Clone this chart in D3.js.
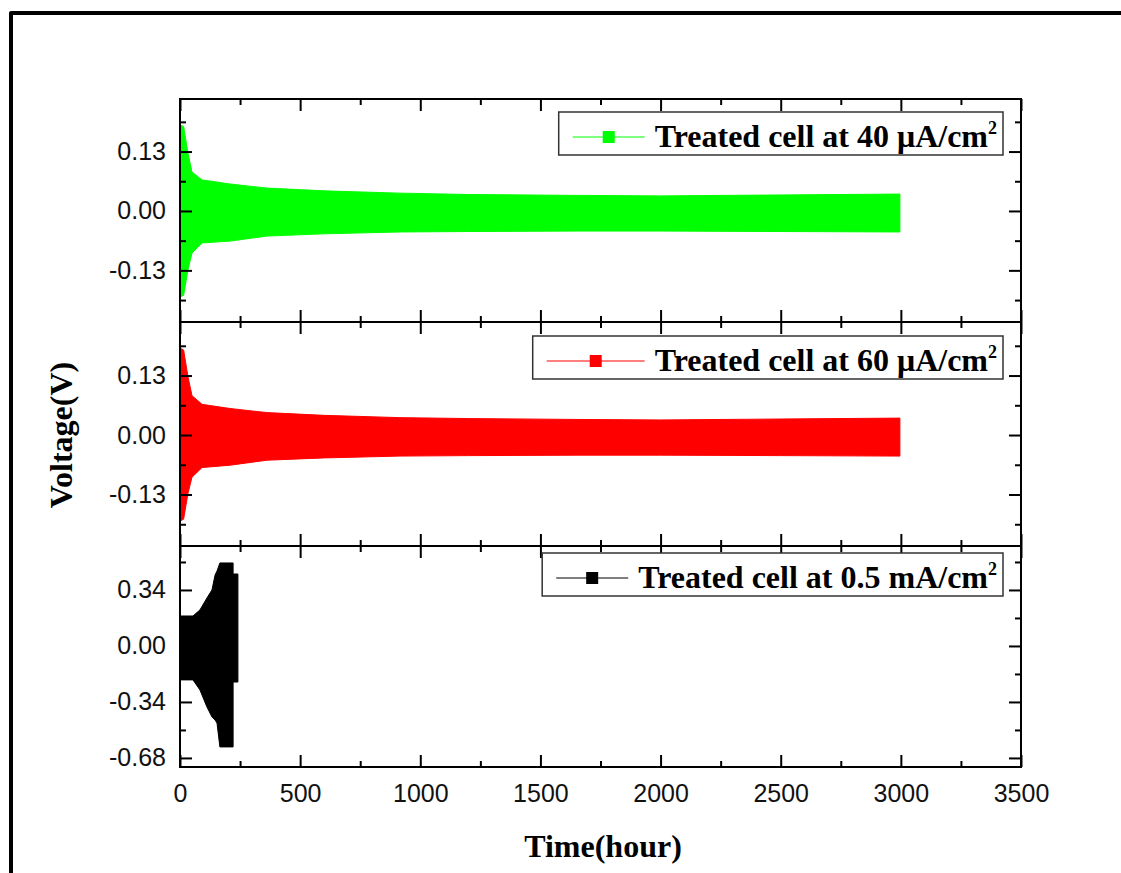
<!DOCTYPE html>
<html>
<head>
<meta charset="utf-8">
<script src="https://cdn.jsdelivr.net/npm/d3@7"></script>
<style>
  body { margin: 0; background: #fff; overflow: hidden; }
  .tick text { font-family: "Liberation Sans", Arial, sans-serif; font-size: 25px; fill: #111; }
  .tick line { stroke: #000; stroke-width: 2; }
  .domain { display: none; }
</style>
</head>
<body>
<div id="plot"></div>
<script>
// Width and height
const w = 1121;
const h = 873;
const margin = {top: 99, right: 100, bottom: 106, left: 180};
const innerWidth = w - margin.left - margin.right;

// envelope of the voltage oscillation (hours, V)
const greenTime  = [0, 15, 33, 50, 92, 208, 362, 600, 915, 1200, 1665, 2000, 2500, 2996];
const greenUpper = [0.188, 0.185, 0.127, 0.085, 0.068, 0.059, 0.050, 0.044, 0.039, 0.036, 0.034, 0.033, 0.035, 0.037];
const greenLower = [-0.188, -0.185, -0.129, -0.092, -0.070, -0.066, -0.055, -0.050, -0.046, -0.045, -0.044, -0.044, -0.045, -0.046];

const redTime  = [0, 15, 33, 50, 92, 208, 362, 600, 915, 1200, 1665, 2000, 2500, 2996];
const redUpper = [0.190, 0.186, 0.128, 0.086, 0.067, 0.058, 0.049, 0.043, 0.038, 0.036, 0.034, 0.033, 0.035, 0.037];
const redLower = [-0.188, -0.184, -0.128, -0.092, -0.071, -0.066, -0.055, -0.050, -0.046, -0.045, -0.044, -0.044, -0.045, -0.046];

const blackTime  = [0, 54, 83, 112, 133, 146, 154, 166, 221, 221, 241];
const blackUpper = [0.182, 0.182, 0.219, 0.291, 0.340, 0.431, 0.455, 0.504, 0.504, 0.437, 0.437];
const blackLower = [-0.206, -0.206, -0.267, -0.370, -0.431, -0.450, -0.468, -0.613, -0.613, -0.219, -0.219];

// tick labels
const xTicks = [0, 500, 1000, 1500, 2000, 2500, 3000, 3500];
const xMinor = [250, 750, 1250, 1750, 2250, 2750, 3250];
const smallTicks = [-0.13, 0, 0.13];
const smallMinor = [-0.195, -0.065, 0.065, 0.195];
const bigTicks = [-0.68, -0.34, 0, 0.34];
const bigMinor = [-0.51, -0.17, 0.17, 0.51];

const panels = [
  {top: 99,  bottom: 322, domain: [-0.243, 0.245], ticks: smallTicks, minor: smallMinor,
   time: greenTime, upper: greenUpper, lower: greenLower, color: "#00ff00",
   label: "Treated cell at 40 \u03bcA/cm", legendY: 112, sym: 82},
  {top: 322, bottom: 546, domain: [-0.2425, 0.247], ticks: smallTicks, minor: smallMinor,
   time: redTime, upper: redUpper, lower: redLower, color: "#ff0000",
   label: "Treated cell at 60 \u03bcA/cm", legendY: 336, sym: 108},
  {top: 546, bottom: 767, domain: [-0.735, 0.607], ticks: bigTicks, minor: bigMinor,
   time: blackTime, upper: blackUpper, lower: blackLower, color: "#000000",
   label: "Treated cell at 0.5 mA/cm", legendY: 553, sym: 82}
];

const serif = "'Liberation Serif', 'Times New Roman', serif";

const svg = d3.select("div#plot")
  .append("svg")
    .attr("width", w)
    .attr("height", h)
    .style("display", "block");

svg.append("rect")
  .attr("width", w)
  .attr("height", h)
  .attr("fill", "#fff");

// outer frame: only its left and top edges fall inside the picture
svg.append("path")
  .attr("d", `M11,${h} L11,13 L${w},13`)
  .attr("fill", "none")
  .attr("stroke", "#000")
  .attr("stroke-width", 4)
  .attr("stroke-linejoin", "round");

const xScale = d3.scaleLinear()
  .domain([0, 3500])
  .range([margin.left, margin.left + innerWidth]);

const fmt = d => {
  const s = d3.format(".2f")(Math.abs(d));
  return d < 0 ? "-" + s : s;
};

// tick-only axis, no labels
function ticksOnly(sel, axis) {
  sel.call(axis.tickFormat(""));
  sel.selectAll("text").remove();
}

panels.forEach((p, i) => {
  const yScale = d3.scaleLinear()
    .domain(p.domain)
    .range([p.bottom, p.top]);

  const g = svg.append("g").attr("class", "panel");

  // data band
  const area = d3.area()
    .x(d => xScale(d[0]))
    .y0(d => yScale(d[2]))
    .y1(d => yScale(d[1]));

  g.append("path")
    .datum(d3.zip(p.time, p.upper, p.lower))
    .attr("d", area)
    .attr("fill", p.color)
    .attr("stroke", p.color)
    .attr("stroke-width", 1);

  // left axis
  g.append("g")
    .attr("transform", `translate(${margin.left},0)`)
    .call(d3.axisLeft(yScale).tickValues(p.ticks).tickSize(-12).tickPadding(14).tickFormat(fmt));
  g.append("g")
    .attr("transform", `translate(${margin.left},0)`)
    .call(ticksOnly, d3.axisLeft(yScale).tickValues(p.minor).tickSize(-6));

  // right axis
  g.append("g")
    .attr("transform", `translate(${margin.left + innerWidth},0)`)
    .call(ticksOnly, d3.axisRight(yScale).tickValues(p.ticks).tickSize(-12));
  g.append("g")
    .attr("transform", `translate(${margin.left + innerWidth},0)`)
    .call(ticksOnly, d3.axisRight(yScale).tickValues(p.minor).tickSize(-6));

  // top x ticks
  g.append("g")
    .attr("transform", `translate(0,${p.top})`)
    .call(ticksOnly, d3.axisTop(xScale).tickValues(xTicks).tickSize(-12));
  g.append("g")
    .attr("transform", `translate(0,${p.top})`)
    .call(ticksOnly, d3.axisTop(xScale).tickValues(xMinor).tickSize(-6));

  // bottom x ticks, labelled on the last panel only
  if (i === 2) {
    g.append("g")
      .attr("transform", `translate(0,${p.bottom})`)
      .call(d3.axisBottom(xScale).tickValues(xTicks).tickSize(-12).tickPadding(17).tickFormat(d3.format("d")));
  } else {
    g.append("g")
      .attr("transform", `translate(0,${p.bottom})`)
      .call(ticksOnly, d3.axisBottom(xScale).tickValues(xTicks).tickSize(-12));
  }
  g.append("g")
    .attr("transform", `translate(0,${p.bottom})`)
    .call(ticksOnly, d3.axisBottom(xScale).tickValues(xMinor).tickSize(-6));

  // panel frame
  g.append("rect")
    .attr("x", margin.left)
    .attr("y", p.top)
    .attr("width", innerWidth)
    .attr("height", p.bottom - p.top)
    .attr("fill", "none")
    .attr("stroke", "#000")
    .attr("stroke-width", 2);

  // legend
  const leg = g.append("g");
  const txt = leg.append("text")
    .attr("x", 0)
    .attr("y", p.legendY + 35)
    .style("font-family", serif)
    .style("font-weight", "bold")
    .style("font-size", "32px")
    .text(p.label);
  txt.append("tspan")
    .attr("dy", -13)
    .style("font-size", "18px")
    .text("2");
  const tw = txt.node().getComputedTextLength();
  const textStart = 997 - tw;
  txt.attr("x", textStart);
  const cy = p.legendY + 25;
  const x1 = textStart - p.sym;
  const x2 = textStart - 10;
  leg.append("line")
    .attr("x1", x1)
    .attr("x2", x2)
    .attr("y1", cy)
    .attr("y2", cy)
    .attr("stroke", p.color)
    .attr("stroke-width", 1.2);
  leg.append("rect")
    .attr("x", (x1 + x2) / 2 - 6)
    .attr("y", cy - 6)
    .attr("width", 12)
    .attr("height", 12)
    .attr("fill", p.color);
  leg.insert("rect", ":first-child")
    .attr("x", x1 - 14)
    .attr("y", p.legendY)
    .attr("width", 1003 - (x1 - 14))
    .attr("height", 43)
    .attr("fill", "#fff")
    .attr("stroke", "#333")
    .attr("stroke-width", 1.5);
});

// axis titles
svg.append("text")
  .attr("x", 603)
  .attr("y", 857)
  .attr("text-anchor", "middle")
  .style("font-family", serif)
  .style("font-weight", "bold")
  .style("font-size", "32px")
  .text("Time(hour)");

svg.append("text")
  .attr("transform", "translate(72,435) rotate(-90)")
  .attr("text-anchor", "middle")
  .style("font-family", serif)
  .style("font-weight", "bold")
  .style("font-size", "32px")
  .text("Voltage(V)");
</script>
</body>
</html>
